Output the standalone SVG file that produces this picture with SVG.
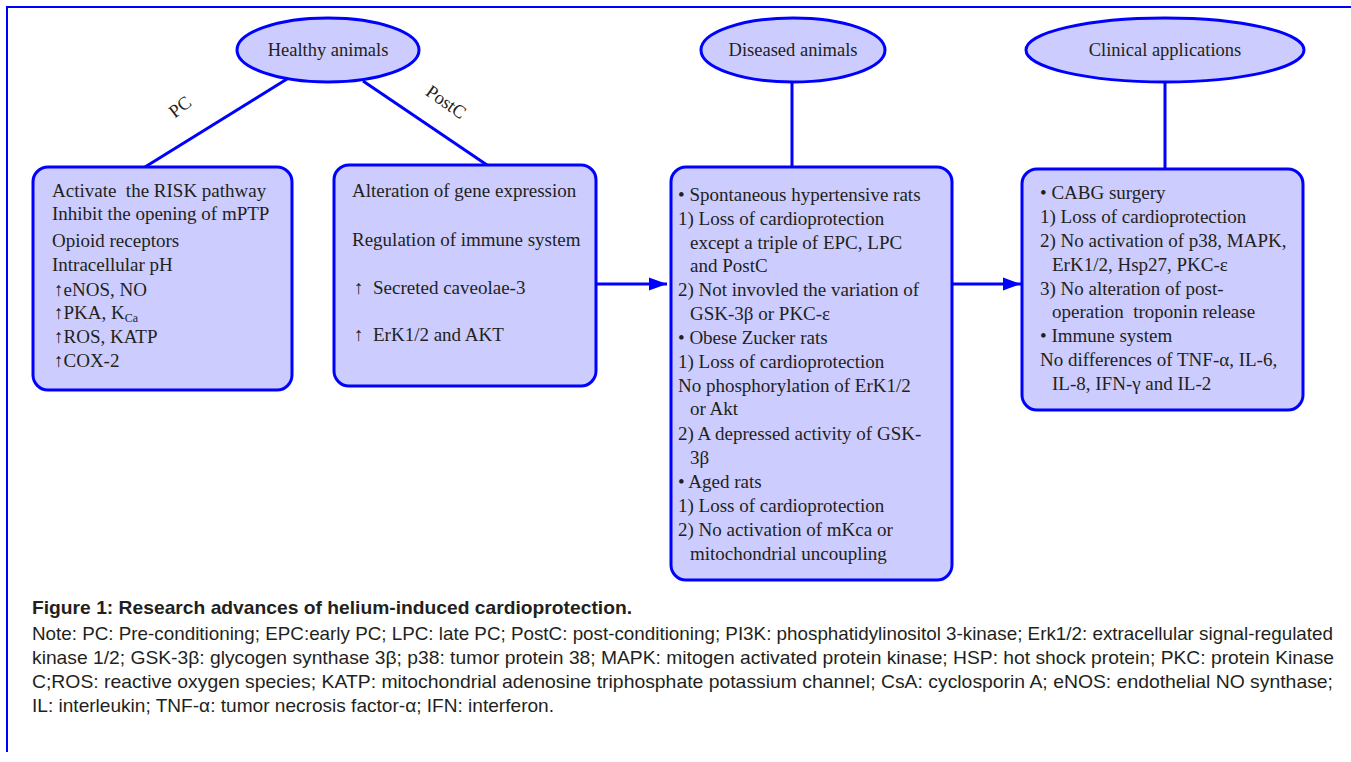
<svg xmlns="http://www.w3.org/2000/svg" width="1351" height="762" viewBox="0 0 1351 762">
<defs>
<style>
.shape{fill:#ccccff;stroke:#0000ff;stroke-width:3}
.conn{stroke:#0000ff;stroke-width:3;fill:none}
.frame{stroke:#0000ff;stroke-width:2;fill:none}
.t{font-family:"Liberation Serif","Times New Roman",serif;font-size:19px;fill:#231f20}
.e{font-family:"Liberation Serif","Times New Roman",serif;font-size:18.5px;fill:#231f20}
.cap{font-family:"Liberation Sans",Arial,sans-serif;font-size:18.5px;fill:#231f20}
.capb{font-family:"Liberation Sans",Arial,sans-serif;font-size:18.5px;font-weight:bold;fill:#231f20}
</style>
<marker id="ah" viewBox="0 0 10 10" refX="10" refY="5" markerWidth="6" markerHeight="4.4" orient="auto" markerUnits="strokeWidth" preserveAspectRatio="none">
<path d="M0,0 L10,5 L0,10 z" fill="#0000ff"/>
</marker>
</defs>
<rect width="1351" height="762" fill="#ffffff"/>
<path class="frame" d="M7,752 L7,7 L1351,7"/>

<g id="connectors">
<line class="conn" x1="287" y1="79" x2="145" y2="167"/>
<line class="conn" x1="363" y1="81" x2="487" y2="165"/>
<line class="conn" x1="792" y1="82" x2="792" y2="167"/>
<line class="conn" x1="1165" y1="82" x2="1165" y2="169"/>
<line class="conn" x1="596" y1="284" x2="667" y2="284" marker-end="url(#ah)"/>
<line class="conn" x1="952" y1="284" x2="1021" y2="284" marker-end="url(#ah)"/>
<text class="e" transform="translate(180,107) rotate(-38)" text-anchor="middle" dominant-baseline="central">PC</text>
<text class="e" transform="translate(446,102) rotate(35)" text-anchor="middle" dominant-baseline="central">PostC</text>
</g>

<g id="healthy">
<ellipse class="shape" cx="328" cy="50" rx="91" ry="32"/>
<text class="e" x="328" y="56" text-anchor="middle">Healthy animals</text>
</g>

<g id="diseased">
<ellipse class="shape" cx="793" cy="50" rx="92" ry="32"/>
<text class="e" x="793" y="56" text-anchor="middle">Diseased animals</text>
</g>

<g id="clinical">
<ellipse class="shape" cx="1165" cy="50" rx="139" ry="32"/>
<text class="e" x="1165" y="56" text-anchor="middle">Clinical applications</text>
</g>

<g id="pc-box">
<rect class="shape" x="33" y="167" width="259" height="223" rx="15"/>
<text class="t" x="52" y="197" xml:space="preserve">Activate  the RISK pathway</text>
<text class="t" x="52" y="220">Inhibit the opening of mPTP</text>
<text class="t" x="52" y="247">Opioid receptors</text>
<text class="t" x="52" y="271">Intracellular pH</text>
<text class="t" x="54" y="296">↑eNOS, NO</text>
<text class="t" x="54" y="319">↑PKA, K<tspan font-size="12" dy="3">Ca</tspan></text>
<text class="t" x="54" y="343">↑ROS, KATP</text>
<text class="t" x="54" y="367">↑COX-2</text>
</g>

<g id="postc-box">
<rect class="shape" x="334" y="165" width="262" height="221" rx="15"/>
<text class="t" x="352" y="197">Alteration of gene expression</text>
<text class="t" x="352" y="246">Regulation of immune system</text>
<text class="t" x="354" y="294" xml:space="preserve">↑  Secreted caveolae-3</text>
<text class="t" x="354" y="341" xml:space="preserve">↑  ErK1/2 and AKT</text>
</g>

<g id="diseased-box">
<rect class="shape" x="671" y="167" width="281" height="413" rx="15"/>
<text class="t" x="678" y="201">• Spontaneous hypertensive rats</text>
<text class="t" x="678" y="225">1) Loss of cardioprotection</text>
<text class="t" x="690" y="249">except a triple of EPC, LPC</text>
<text class="t" x="690" y="272">and PostC</text>
<text class="t" x="678" y="296">2) Not invovled the variation of</text>
<text class="t" x="690" y="320">GSK-3β or PKC-ε</text>
<text class="t" x="678" y="344">• Obese Zucker rats</text>
<text class="t" x="678" y="368">1) Loss of cardioprotection</text>
<text class="t" x="678" y="392">No phosphorylation of ErK1/2</text>
<text class="t" x="690" y="415">or Akt</text>
<text class="t" x="678" y="440">2) A depressed activity of GSK-</text>
<text class="t" x="690" y="464">3β</text>
<text class="t" x="678" y="488">• Aged rats</text>
<text class="t" x="678" y="512">1) Loss of cardioprotection</text>
<text class="t" x="678" y="536">2) No activation of mKca or</text>
<text class="t" x="690" y="560">mitochondrial uncoupling</text>
</g>

<g id="clinical-box">
<rect class="shape" x="1022" y="169" width="281" height="241" rx="15"/>
<text class="t" x="1040" y="199">• CABG surgery</text>
<text class="t" x="1040" y="223">1) Loss of cardioprotection</text>
<text class="t" x="1040" y="247">2) No activation of p38, MAPK,</text>
<text class="t" x="1052" y="271">ErK1/2, Hsp27, PKC-ε</text>
<text class="t" x="1040" y="295">3) No alteration of post-</text>
<text class="t" x="1052" y="318" xml:space="preserve">operation  troponin release</text>
<text class="t" x="1040" y="342">• Immune system</text>
<text class="t" x="1040" y="366">No differences of TNF-α, IL-6,</text>
<text class="t" x="1052" y="390">IL-8, IFN-γ and IL-2</text>
</g>

<g id="caption">
<text class="capb" x="32" y="614" textLength="600" lengthAdjust="spacingAndGlyphs">Figure 1: Research advances of helium-induced cardioprotection.</text>
<text class="cap" x="32" y="640" textLength="1301" lengthAdjust="spacingAndGlyphs">Note: PC: Pre-conditioning; EPC:early PC; LPC: late PC; PostC: post-conditioning; PI3K: phosphatidylinositol 3-kinase; Erk1/2: extracellular signal-regulated</text>
<text class="cap" x="32" y="664" textLength="1302" lengthAdjust="spacingAndGlyphs">kinase 1/2; GSK-3β: glycogen synthase 3β; p38: tumor protein 38; MAPK: mitogen activated protein kinase; HSP: hot shock protein; PKC: protein Kinase</text>
<text class="cap" x="32" y="688" textLength="1301" lengthAdjust="spacingAndGlyphs">C;ROS: reactive oxygen species; KATP: mitochondrial adenosine triphosphate potassium channel; CsA: cyclosporin A; eNOS: endothelial NO synthase;</text>
<text class="cap" x="32" y="712" textLength="522" lengthAdjust="spacingAndGlyphs">IL: interleukin; TNF-α: tumor necrosis factor-α; IFN: interferon.</text>
</g>
</svg>
